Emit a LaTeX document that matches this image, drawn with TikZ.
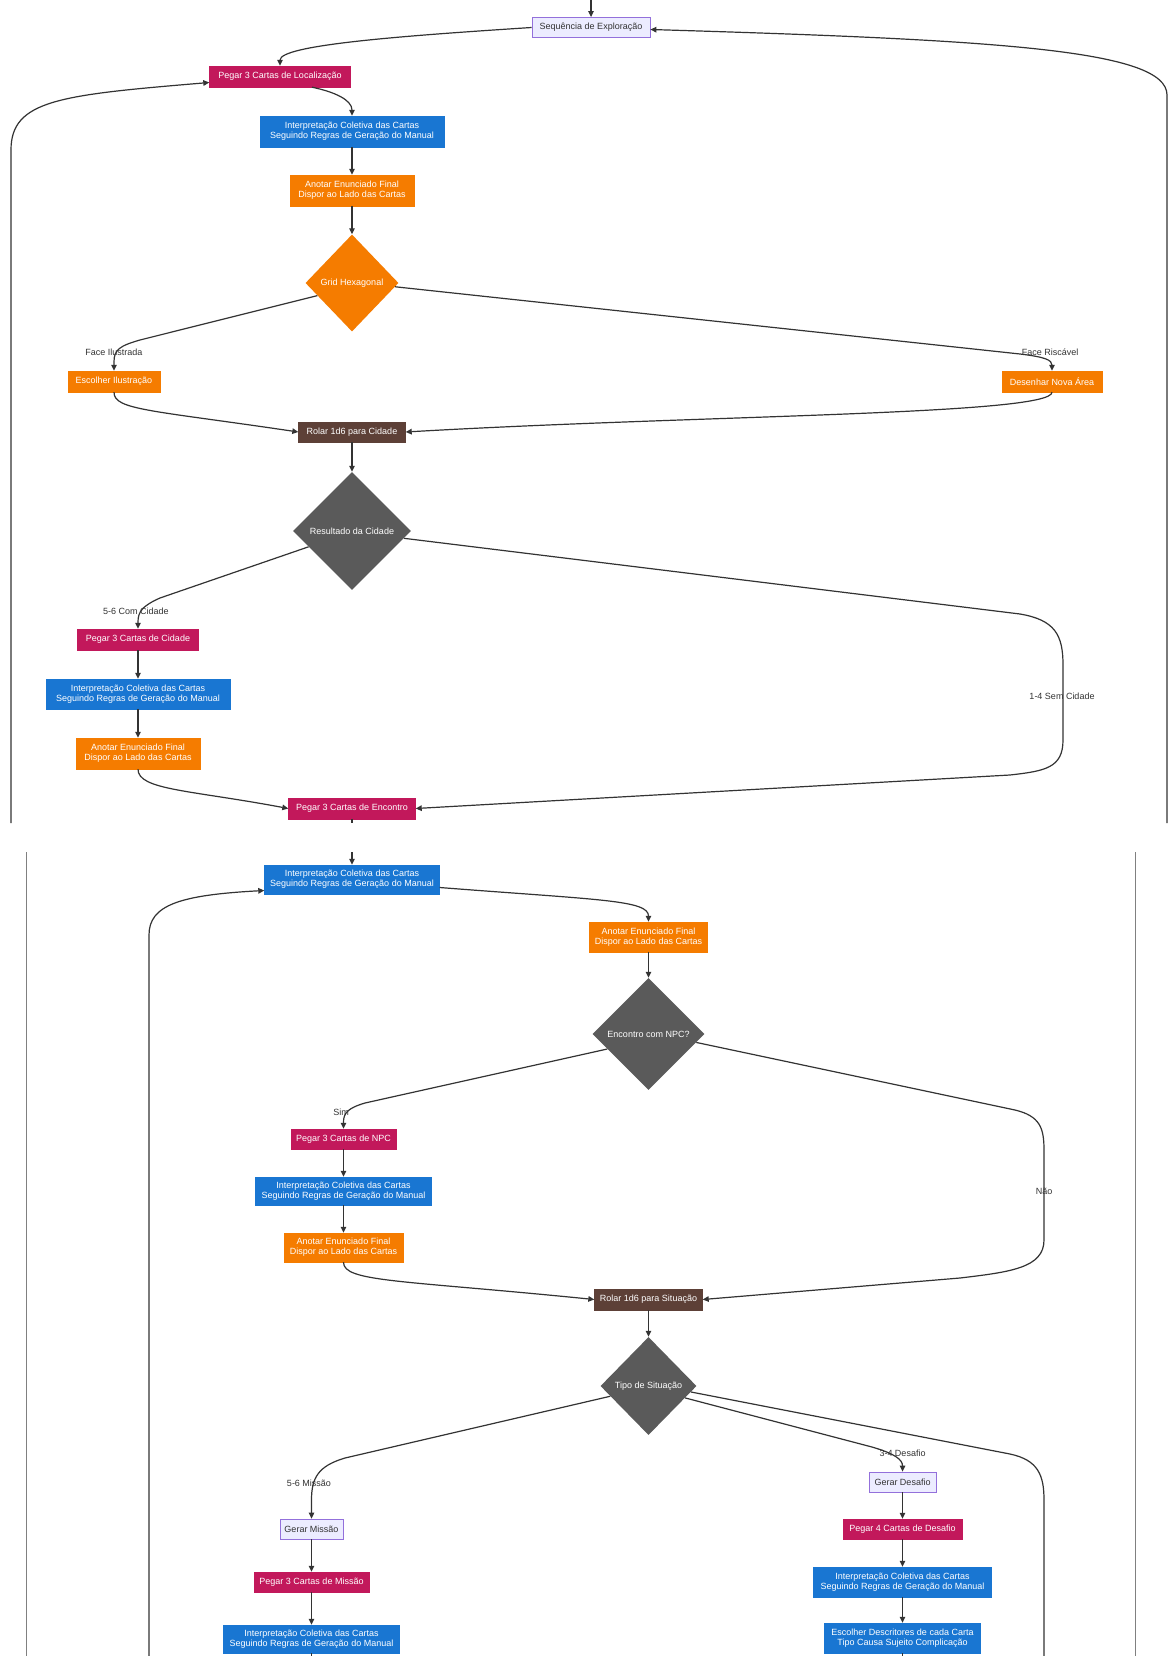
\documentclass[tikz,border=0pt]{standalone}
\usepackage{fontspec}
\setmainfont{Liberation Sans}
\usetikzlibrary{shapes.geometric,arrows.meta}
\definecolor{cmag}{HTML}{C2185B}
\definecolor{cblue}{HTML}{1976D2}
\definecolor{corange}{HTML}{F57C00}
\definecolor{cbrown}{HTML}{5D4037}
\definecolor{cgray}{HTML}{5A5A5A}
\definecolor{clav}{HTML}{ECECFF}
\definecolor{clavb}{HTML}{9370DB}
\definecolor{cedge}{HTML}{333333}
\begin{document}
\begin{tikzpicture}[x=1pt,y=-1pt,
  nbox/.style={rectangle, inner xsep=2pt, inner ysep=1pt, font=\fontsize{9}{10}\selectfont, align=center, text=white},
  mag/.style={nbox, fill=cmag, draw=cmag},
  blu/.style={nbox, fill=cblue, draw=cblue},
  org/.style={nbox, fill=corange, draw=corange},
  brn/.style={nbox, fill=cbrown, draw=cbrown},
  lav/.style={nbox, fill=clav, draw=clavb, text=cedge, line width=0.8pt},
  dia/.style={diamond, inner sep=0pt, font=\fontsize{9}{10}\selectfont, text=white},
  conn/.style={draw=cedge, line width=1.2pt, -{Triangle[length=6pt,width=5.5pt]}},
  cline/.style={draw=cedge, line width=1.2pt},
  lbl/.style={font=\fontsize{9}{10}\selectfont, text=cedge, inner sep=1pt},
  frameline/.style={draw=gray, line width=1pt}
]
\fill[white] (0,0) rectangle (1169,1656);
\useasboundingbox (0,0) rectangle (1169,1656);

% ---------- top section ----------
\node[lav, minimum width=118pt, minimum height=20pt] (seq) at (591,27.5) {Sequência de Exploração};
\node[mag, minimum width=141pt, minimum height=21pt] (pl) at (280,76.5) {Pegar 3 Cartas de Localização};
\node[blu, minimum width=184pt, minimum height=31pt] (i1) at (352,131.5) {Interpretação Coletiva das Cartas\\Seguindo Regras de Geração do Manual};
\node[org, minimum width=124pt, minimum height=31pt] (a1) at (352,190.5) {Anotar Enunciado Final\\Dispor ao Lado das Cartas};
\node[dia, fill=corange, minimum width=93pt, minimum height=97pt] (d1) at (352,283) {Grid Hexagonal};
\node[org, minimum width=92pt, minimum height=21pt] (ei) at (114,381.5) {Escolher Ilustração};
\node[org, minimum width=100pt, minimum height=21pt] (dn) at (1052,381.5) {Desenhar Nova Área};
\node[brn, minimum width=107pt, minimum height=20pt] (rc) at (352,432) {Rolar 1d6 para Cidade};
\node[dia, fill=cgray, minimum width=118pt, minimum height=118pt] (d2) at (352,531) {Resultado da Cidade};
\node[mag, minimum width=121pt, minimum height=21pt] (pc) at (138,639.5) {Pegar 3 Cartas de Cidade};
\node[blu, minimum width=184pt, minimum height=30pt] (i2) at (138,694) {Interpretação Coletiva das Cartas\\Seguindo Regras de Geração do Manual};
\node[org, minimum width=124pt, minimum height=31pt] (a2) at (138,753.5) {Anotar Enunciado Final\\Dispor ao Lado das Cartas};
\node[mag, minimum width=127pt, minimum height=21pt] (pe) at (352,808.5) {Pegar 3 Cartas de Encontro};

\coordinate (topin) at (591,0);
\coordinate (cutA) at (352,823);
\coordinate (lt) at (11,823);
\coordinate (rt) at (1167,823);

\draw[conn] (topin) -- (seq.north);
\draw[conn] (seq.west) .. controls (400,36) and (280,45) .. (pl.north);
\draw[conn] ([xshift=32pt]pl.south) .. controls (335,92) and (352,100) .. (i1.north);
\draw[conn] (i1.south) -- (a1.north);
\draw[conn] (a1.south) -- (d1.north);
\draw[conn] (d1.200) -- (140,340) .. controls (119,346) and (114,350) .. (114,362) -- (ei.north);
\draw[conn] (d1.-5) -- (1020,354) .. controls (1045,357) and (1052,360) .. (dn.north);
\draw[conn] (ei.south) .. controls (114,410) and (150,410) .. (rc.west);
\draw[conn] (dn.south) .. controls (1052,415) and (700,415) .. (rc.east);
\draw[conn] (rc.south) -- (d2.north);
\draw[conn] (d2.200) -- (160,598) .. controls (142,606) and (138,612) .. (138,622) -- (pc.north);
\draw[conn] (d2.-8) -- (1020,614) .. controls (1055,620) and (1063,635) .. (1063,665) -- (1063,740) .. controls (1063,768) and (1045,771) .. (1010,775) -- (pe.east);
\draw[conn] (pc.south) -- (i2.north);
\draw[conn] (i2.south) -- (a2.north);
\draw[conn] (a2.south) .. controls (138,790) and (190,790) .. (pe.west);
\draw[cline] (pe.south) -- (cutA);
\draw[conn] (lt) -- (11,150) .. controls (11,100) and (60,95) .. ([yshift=-6pt]pl.west);
\draw[conn] (rt) -- (1167,95) .. controls (1167,50) and (1000,40) .. ([yshift=-2pt]seq.east);

\node[lbl] (l1) at (114,352) {Face Ilustrada};
\node[lbl] (l2) at (1050,352) {Face Riscável};
\node[lbl] (l3) at (136,611) {5-6 Com Cidade};
\node[lbl] (l4) at (1062,696) {1-4 Sem Cidade};

% ---------- bottom section ----------
\node[blu, minimum width=175pt, minimum height=29pt] (i3) at (352,879.5) {Interpretação Coletiva das Cartas\\Seguindo Regras de Geração do Manual};
\node[org, minimum width=118pt, minimum height=30pt] (a3) at (648.5,937) {Anotar Enunciado Final\\Dispor ao Lado das Cartas};
\node[dia, fill=cgray, minimum width=112pt, minimum height=112pt] (d3) at (648.5,1034) {Encontro com NPC?};
\node[mag, minimum width=105pt, minimum height=20pt] (pn) at (343.5,1139) {Pegar 3 Cartas de NPC};
\node[blu, minimum width=176pt, minimum height=28pt] (i4) at (343.5,1191) {Interpretação Coletiva das Cartas\\Seguindo Regras de Geração do Manual};
\node[org, minimum width=119pt, minimum height=29pt] (a4) at (343.5,1247.5) {Anotar Enunciado Final\\Dispor ao Lado das Cartas};
\node[brn, minimum width=108pt, minimum height=21pt] (rs) at (648.5,1299.5) {Rolar 1d6 para Situação};
\node[dia, fill=cgray, minimum width=96pt, minimum height=98pt] (d4) at (648.5,1386) {Tipo de Situação};
\node[lav, minimum width=63pt, minimum height=20pt] (gm) at (311.5,1529) {Gerar Missão};
\node[mag, minimum width=115pt, minimum height=20pt] (pm) at (311.5,1582) {Pegar 3 Cartas de Missão};
\node[blu, minimum width=176pt, minimum height=28pt] (i5) at (311.5,1639) {Interpretação Coletiva das Cartas\\Seguindo Regras de Geração do Manual};
\node[lav, minimum width=67pt, minimum height=20pt] (gd) at (902.5,1482) {Gerar Desafio};
\node[mag, minimum width=119pt, minimum height=20pt] (pd) at (902.5,1529) {Pegar 4 Cartas de Desafio};
\node[blu, minimum width=178pt, minimum height=30pt] (i6) at (902.5,1582) {Interpretação Coletiva das Cartas\\Seguindo Regras de Geração do Manual};
\node[blu, minimum width=156pt, minimum height=30pt] (ed) at (902.5,1638) {Escolher Descritores de cada Carta\\Tipo Causa Sujeito Complicação};

\coordinate (cutB) at (352,852);
\coordinate (lb) at (149,1656);
\coordinate (b1) at (1044,1656);
\coordinate (b2) at (311.5,1656);
\coordinate (b3) at (902.5,1656);

\draw[frameline] (26,852) -- (26,1656);
\draw[frameline] (1135,852) -- (1135,1656);

\draw[conn] (cutB) -- (i3.north);
\draw[conn] (lb) -- (149,935) .. controls (149,905) and (180,895) .. ([yshift=-11pt]i3.west);
\draw[conn] ([yshift=-8pt]i3.east) .. controls (600,900) and (648.5,900) .. (a3.north);
\draw[conn] (a3.south) -- (d3.north);
\draw[conn] (d3.200) -- (365,1103) .. controls (348,1108) and (343.5,1113) .. (343.5,1122) -- (pn.north);
\draw[conn] (d3.-10) -- (1015,1110) .. controls (1040,1116) and (1044,1128) .. (1044,1150) -- (1044,1240) .. controls (1044,1268) and (1010,1272) .. (960,1278) -- (rs.east);
\draw[conn] (pn.south) -- (i4.north);
\draw[conn] (i4.south) -- (a4.north);
\draw[conn] (a4.south) .. controls (343.5,1282) and (400,1280) .. (rs.west);
\draw[conn] (rs.south) -- (d4.north);
\draw[conn] (d4.195) -- (345,1458) .. controls (318,1466) and (311.5,1478) .. (311.5,1500) -- (gm.north);
\draw[conn] (d4.-18) -- (872,1447) .. controls (896,1454) and (902.5,1460) .. (gd.north);
\draw[cline] (d4.-8) -- (1010,1454) .. controls (1038,1460) and (1044,1475) .. (1044,1500) -- (b1);
\draw[conn] (gm.south) -- (pm.north);
\draw[conn] (pm.south) -- (i5.north);
\draw[cline] (i5.south) -- (b2);
\draw[conn] (gd.south) -- (pd.north);
\draw[conn] (pd.south) -- (i6.north);
\draw[conn] (i6.south) -- (ed.north);
\draw[cline] (ed.south) -- (b3);

\node[lbl] (l5) at (341,1112) {Sim};
\node[lbl] (l6) at (1044,1191) {Não};
\node[lbl] (l7) at (309,1483) {5-6 Missão};
\node[lbl] (l8) at (902.5,1453) {3-4 Desafio};
\end{tikzpicture}
\end{document}
